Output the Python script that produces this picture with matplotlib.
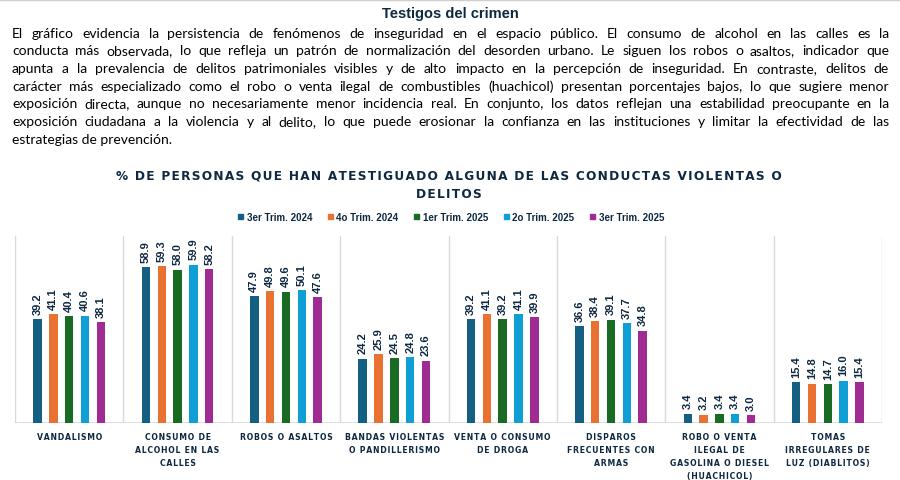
import matplotlib
matplotlib.use('Agg')
import matplotlib.pyplot as plt
import numpy as np
from matplotlib.patches import Patch
from matplotlib.lines import Line2D

# Data
categories = ['VANDALISMO', 'CONSUMO DE\nALCOHOL EN LAS\nCALLES', 'ROBOS O ASALTOS',
              'BANDAS VIOLENTAS\nO PANDILLERISMO', 'VENTA O CONSUMO\nDE DROGA',
              'DISPAROS\nFRECUENTES CON\nARMAS',
              'ROBO O VENTA\nILEGAL DE\nGASOLINA O DIESEL\n(HUACHICOL)',
              'TOMAS\nIRREGULARES DE\nLUZ (DIABLITOS)']
periods = ['3er Trim. 2024', '4o Trim. 2024', '1er Trim. 2025', '2o Trim. 2025', '3er Trim. 2025']
t3_2024 = [39.2, 58.9, 47.9, 24.2, 39.2, 36.6, 3.4, 15.4]
t4_2024 = [41.1, 59.3, 49.8, 25.9, 41.1, 38.4, 3.2, 14.8]
t1_2025 = [40.4, 58.0, 49.6, 24.5, 39.2, 39.1, 3.4, 14.7]
t2_2025 = [40.6, 59.9, 50.1, 24.8, 41.1, 37.7, 3.4, 16.0]
t3_2025 = [38.1, 58.2, 47.6, 23.6, 39.9, 34.8, 3.0, 15.4]
series = [t3_2024, t4_2024, t1_2025, t2_2025, t3_2025]

header = 'Testigos del crimen'
intro_lines = [
    'El gráfico evidencia la persistencia de fenómenos de inseguridad en el espacio público. El consumo de alcohol en las calles es la',
    'conducta más observada, lo que refleja un patrón de normalización del desorden urbano. Le siguen los robos o asaltos, indicador que',
    'apunta a la prevalencia de delitos patrimoniales visibles y de alto impacto en la percepción de inseguridad. En contraste, delitos de',
    'carácter más especializado como el robo o venta ilegal de combustibles (huachicol) presentan porcentajes bajos, lo que sugiere menor',
    'exposición directa, aunque no necesariamente menor incidencia real. En conjunto, los datos reflejan una estabilidad preocupante en la',
    'exposición ciudadana a la violencia y al delito, lo que puede erosionar la confianza en las instituciones y limitar la efectividad de las',
    'estrategias de prevención.',
]
chart_title = ['% DE PERSONAS QUE HAN ATESTIGUADO ALGUNA DE LAS CONDUCTAS VIOLENTAS O', 'DELITOS']

colors = ['#156082', '#E97132', '#196B24', '#0F9ED5', '#A02B93']
navy = '#0E2841'
W, H = 900, 481


def track(s, gap='\u200a'):
    # fake letter spacing
    return '\n'.join(gap.join(line) for line in s.split('\n'))


fig = plt.figure(figsize=(9, 4.81), dpi=100)
fig.add_artist(Line2D([0, 1], [0.999, 0.999], color='#CFCFCF', lw=2.5, transform=fig.transFigure))

fig.text(450 / W, 1 - 14 / H, header, ha='center', va='center', fontsize=10.5,
         fontweight='bold', color=navy, family='Liberation Sans')

# justified paragraph
renderer = fig.canvas.get_renderer()
x0, x1 = 12, 889
body = dict(family='Lato', color='black')
probe = fig.text(0, 0, '', fontsize=10, **body)
widths = []
for line in intro_lines:
    probe.set_text(line)
    widths.append(probe.get_window_extent(renderer).width)
probe.remove()
size = min(10, 10 * (x1 - x0) / max(widths) * 0.99)

for i, line in enumerate(intro_lines):
    y = 1 - (37.5 + i * 17.75) / H
    if i == len(intro_lines) - 1:
        fig.text(x0 / W, y, line, fontsize=size, va='baseline', **body)
        continue
    words = line.split(' ')
    texts = [fig.text(0, y, w, fontsize=size, va='baseline', **body) for w in words]
    ws = [t.get_window_extent(renderer).width for t in texts]
    gap = (x1 - x0 - sum(ws)) / (len(words) - 1)
    x = x0
    for t, w in zip(texts, ws):
        t.set_x(x / W)
        x += w + gap

# chart title
fig.text(449 / W, 1 - 176 / H, track(chart_title[0]), ha='center', va='center',
         fontsize=8.7, fontweight='bold', color=navy, family='DejaVu Sans')
fig.text(449 / W, 1 - 194 / H, track(chart_title[1]), ha='center', va='center',
         fontsize=8.7, fontweight='bold', color=navy, family='DejaVu Sans')

# legend
handles = [Patch(color=c) for c in colors]
fig.legend(handles, periods, loc='center', bbox_to_anchor=(451 / W, 1 - 218 / H), ncol=5,
           frameon=False, prop=dict(family='Liberation Sans', weight='bold', size=7),
           handlelength=0.55, handleheight=0.55, handletextpad=0.35, columnspacing=1.6,
           labelcolor=navy)

# bars
ax = fig.add_axes([15 / W, 1 - 424 / H, 867 / W, 187 / H])
x = np.arange(len(categories))
for k, (vals, c) in enumerate(zip(series, colors)):
    bars = ax.bar(x + (k - 2) * 0.146, vals, width=0.078, color=c, zorder=3)
    ax.bar_label(bars, fmt='%.1f', rotation=90, padding=4, fontsize=8, fontweight='bold',
                 color=navy, family='Liberation Sans')

ax.set_xlim(-0.5, len(categories) - 0.5)
ax.set_ylim(0, 70.7)
for b in np.arange(len(categories) + 1) - 0.5:
    ax.axvline(b, color='#D9D9D9', lw=1, zorder=1)
ax.axhline(0, color='#D9D9D9', lw=1.2, zorder=2)
for s in ax.spines.values():
    s.set_visible(False)
ax.set_yticks([])
ax.set_xticks(x, labels=[track(c, '\u200a') for c in categories])
ax.tick_params(axis='x', length=0, pad=6.5)
for lab in ax.get_xticklabels():
    lab.set_fontsize(5.6)
    lab.set_fontweight('bold')
    lab.set_color(navy)
    lab.set_linespacing(1.55)
    lab.set_family('DejaVu Sans')

fig.savefig('out.png', dpi=100)
